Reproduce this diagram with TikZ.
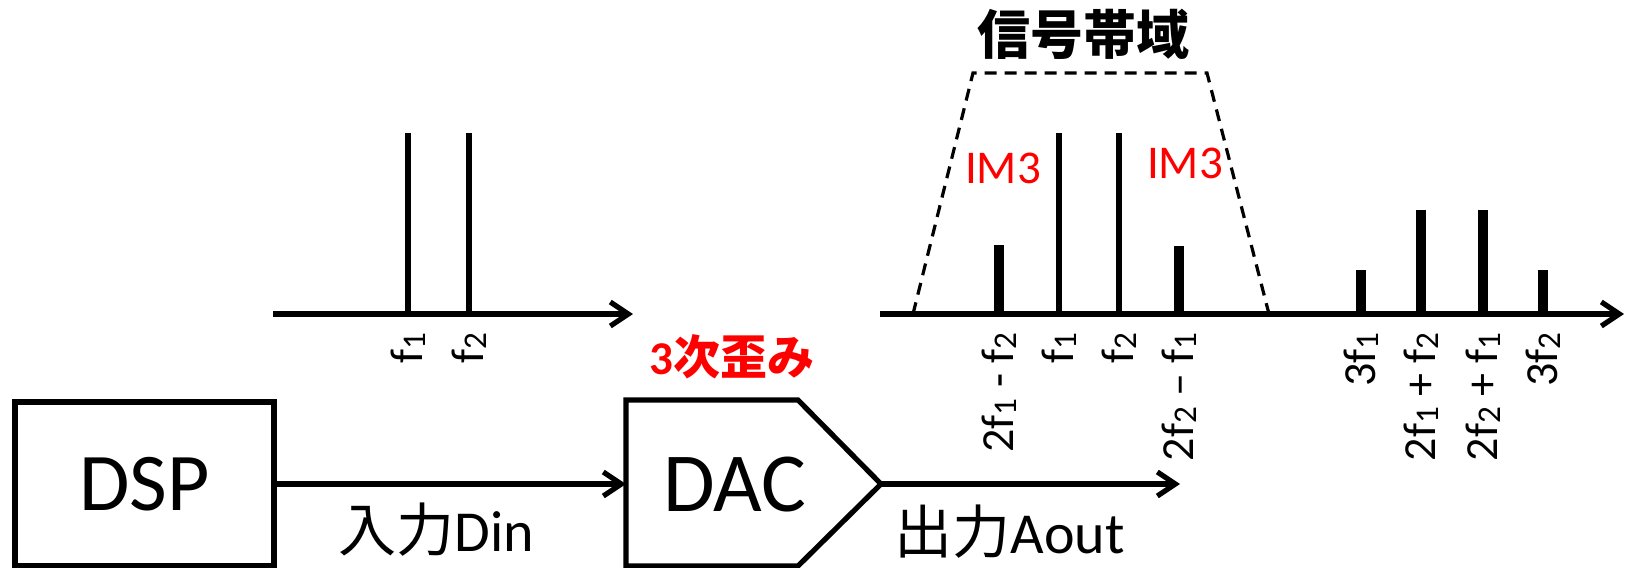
\documentclass[tikz,border=0pt]{standalone}
\usepackage{fontspec}
\setmainfont{Carlito}
\newfontfamily\jp{Noto Sans CJK JP}
\usetikzlibrary{arrows.meta}
\definecolor{imred}{RGB}{255,0,0}
\newcommand\lo[1]{\raisebox{-0.12ex}{\scalebox{0.72}{#1}}}
\newcommand\fs[1]{\fontsize{#1}{#1}\selectfont}
\begin{document}
\begin{tikzpicture}[x=0.5pt,y=-0.5pt,line width=2.6pt,
  arr/.style={-{Straight Barb[length=9pt,width=12pt]}},
  blockbox/.style={draw,line width=2.6pt,inner sep=0pt,font=\fs{41pt}},
  lab/.style={rotate=90,anchor=east,inner sep=0pt,font=\fs{23pt}},
  redlab/.style={text=imred,inner sep=0pt,font=\fs{23.5pt}},
  bar/.style={line width=5pt},
  band/.style={line width=1.6pt,dash pattern=on 6pt off 4pt},
  io/.style={inner sep=0pt,font=\fs{29pt}}]
\useasboundingbox (0,0) rectangle (1629,568);

% DSP block
\node[blockbox,minimum width=129.5pt,minimum height=82pt] (dsp) at (144.5,484) {DSP};

% DAC block
\coordinate (dacin) at (626,484);
\coordinate (dacout) at (881,484);
\draw (626,400) -- (798,400) -- (dacout) -- (798,566) -- (626,566) -- cycle;
\node[inner sep=0pt,font=\fs{42pt}] (dac) at (735,485) {DAC};
\coordinate (outend) at (1180,484);

\draw[arr] (dsp.east |- dacin) -- (dacin);
\draw[arr] (dacout) -- (outend);

\node[io,anchor=west] (din) at (336,530) {{\jp 入力}Din};
\node[io,anchor=west] (aout) at (892,532) {{\jp 出力}Aout};
\node[inner sep=0pt,text=imred,font=\fs{23.5pt}\bfseries] (dist) at (732,357) {3{\jp\bfseries 次歪み}};

% left spectrum
\coordinate (la0) at (273,314);
\coordinate (la1) at (633,314);
\draw[arr] (la0) -- (la1);
\draw (408,314) -- (408,133);
\draw (469,314) -- (469,133);
\node[lab] (lf1) at (408,330) {f\lo{1}};
\node[lab] (lf2) at (469,330) {f\lo{2}};

% right spectrum
\coordinate (ra0) at (880,314);
\coordinate (ra1) at (1624,314);
\draw[arr] (ra0) -- (ra1);
\draw[band] (913,314) -- (973,73) -- (1207,73) -- (1269,314);
\node[inner sep=0pt,font=\fs{26.5pt}\jp\bfseries] (title) at (1083,34) {信号帯域};

\draw (1059,314) -- (1059,133);
\draw (1119,314) -- (1119,133);
\draw[bar] (999,314) -- (999,245);
\draw[bar] (1179,314) -- (1179,246);
\draw[bar] (1361,314) -- (1361,270);
\draw[bar] (1421,314) -- (1421,210);
\draw[bar] (1483,314) -- (1483,210);
\draw[bar] (1543,314) -- (1543,270);

\node[redlab] (im3a) at (1003,168) {IM3};
\node[redlab] (im3b) at (1185,163) {IM3};

\node[lab] (r1) at (999,330) {2f\lo{1} - f\lo{2}};
\node[lab] (r2) at (1059,330) {f\lo{1}};
\node[lab] (r3) at (1119,330) {f\lo{2}};
\node[lab] (r4) at (1179,330) {2f\lo{2}~–~f\lo{1}};
\node[lab] (r5) at (1361,330) {3f\lo{1}};
\node[lab] (r6) at (1421,330) {2f\lo{1} + f\lo{2}};
\node[lab] (r7) at (1483,330) {2f\lo{2} + f\lo{1}};
\node[lab] (r8) at (1543,330) {3f\lo{2}};
\end{tikzpicture}
\end{document}
